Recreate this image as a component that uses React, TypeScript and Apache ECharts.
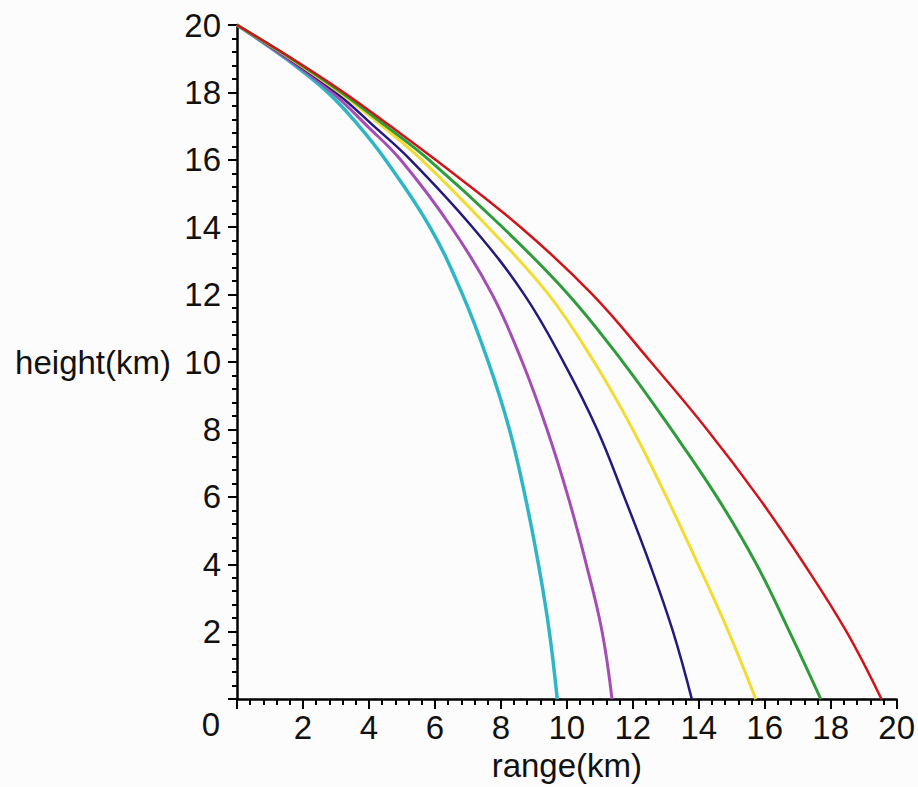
import React, { useEffect, useRef } from "react";
import * as echarts from "echarts";

// Height levels (km) at which each trajectory's range was read
const heights = [20, 19, 18, 17, 16, 14, 12, 10, 8, 6, 4, 2, 0];

// Range (km) of each trajectory at those heights
const cyanRange = [0, 1.48, 2.75, 3.7, 4.5, 5.85, 6.84, 7.62, 8.26, 8.74, 9.14, 9.47, 9.71];
const magentaRange = [0, 1.52, 2.88, 3.95, 4.96, 6.5, 7.74, 8.65, 9.4, 10.04, 10.59, 11.07, 11.37];
const navyRange = [0, 1.58, 3.0, 4.15, 5.26, 7.14, 8.71, 9.9, 10.92, 11.74, 12.52, 13.22, 13.79];
const yellowRange = [0, 1.62, 3.1, 4.4, 5.6, 7.62, 9.45, 10.83, 12.0, 13.02, 13.98, 14.9, 15.73];
const greenRange = [0, 1.65, 3.17, 4.52, 5.82, 8.05, 10.05, 11.7, 13.17, 14.55, 15.75, 16.75, 17.7];
const redRange = [0, 1.68, 3.24, 4.65, 6.02, 8.6, 10.78, 12.55, 14.25, 15.8, 17.2, 18.48, 19.54];

const curves = [
  { name: "c1", range: cyanRange, color: "#2fb6c6", width: 3.5 },
  { name: "c2", range: magentaRange, color: "#a44db4", width: 3 },
  { name: "c3", range: navyRange, color: "#23197e", width: 2.5 },
  { name: "c4", range: yellowRange, color: "#f2dc34", width: 3 },
  { name: "c5", range: greenRange, color: "#2f9c3c", width: 3 },
  { name: "c6", range: redRange, color: "#d0141a", width: 2.5 },
];

const FONT = "Liberation Sans";
const FS = 33;

export default function App() {
  const ref = useRef<HTMLDivElement>(null);
  useEffect(() => {
    if (!ref.current) return;
    const chart = echarts.init(ref.current, null, { renderer: "svg" });
    chart.setOption({
      animation: false,
      backgroundColor: "#fcfcfc",
      grid: { left: 237, top: 25, width: 661, height: 678 },
      xAxis: {
        type: "value",
        min: 0,
        max: 20,
        interval: 2,
        name: "range(km)",
        nameLocation: "middle",
        nameGap: 43,
        nameTextStyle: { fontFamily: FONT, fontSize: FS, color: "#111" },
        axisLine: { show: true, onZero: false, lineStyle: { color: "#000", width: 2.5 } },
        axisTick: { show: true, length: 10, lineStyle: { color: "#000", width: 2 } },
        minorTick: { show: true, splitNumber: 5, length: 6, lineStyle: { color: "#000", width: 2 } },
        splitLine: { show: false },
        axisLabel: {
          margin: 12,
          fontFamily: FONT,
          fontSize: FS,
          color: "#111",
          formatter: (v: number) => (v === 0 ? "" : String(v)),
        },
      },
      yAxis: {
        type: "value",
        min: 0,
        max: 20,
        interval: 2,
        name: "height(km)",
        nameLocation: "middle",
        nameRotate: 0,
        nameGap: 66,
        nameTextStyle: { fontFamily: FONT, fontSize: FS, color: "#111" },
        axisLine: { show: true, onZero: false, lineStyle: { color: "#000", width: 2.5 } },
        axisTick: { show: true, length: 9, lineStyle: { color: "#000", width: 2 } },
        minorTick: { show: true, splitNumber: 5, length: 5, lineStyle: { color: "#000", width: 2 } },
        splitLine: { show: false },
        axisLabel: {
          margin: 16,
          fontFamily: FONT,
          fontSize: FS,
          color: "#111",
          formatter: (v: number) => (v === 0 ? "" : String(v)),
        },
      },
      graphic: [
        {
          type: "text",
          x: 220,
          y: 724,
          style: {
            text: "0",
            font: `${FS}px "${FONT}"`,
            fill: "#111",
            textAlign: "right",
            textVerticalAlign: "middle",
          },
        },
      ],
      series: curves.map((c) => ({
        name: c.name,
        type: "line",
        data: c.range.map((x, i) => [x, heights[i]]),
        showSymbol: false,
        smooth: 0.4,
        lineStyle: { color: c.color, width: c.width },
        z: 2,
      })),
    });
    return () => chart.dispose();
  }, []);
  return (
    <div
      ref={ref}
      style={{ position: "absolute", left: 0, top: 0, width: 918, height: 787 }}
    />
  );
}
